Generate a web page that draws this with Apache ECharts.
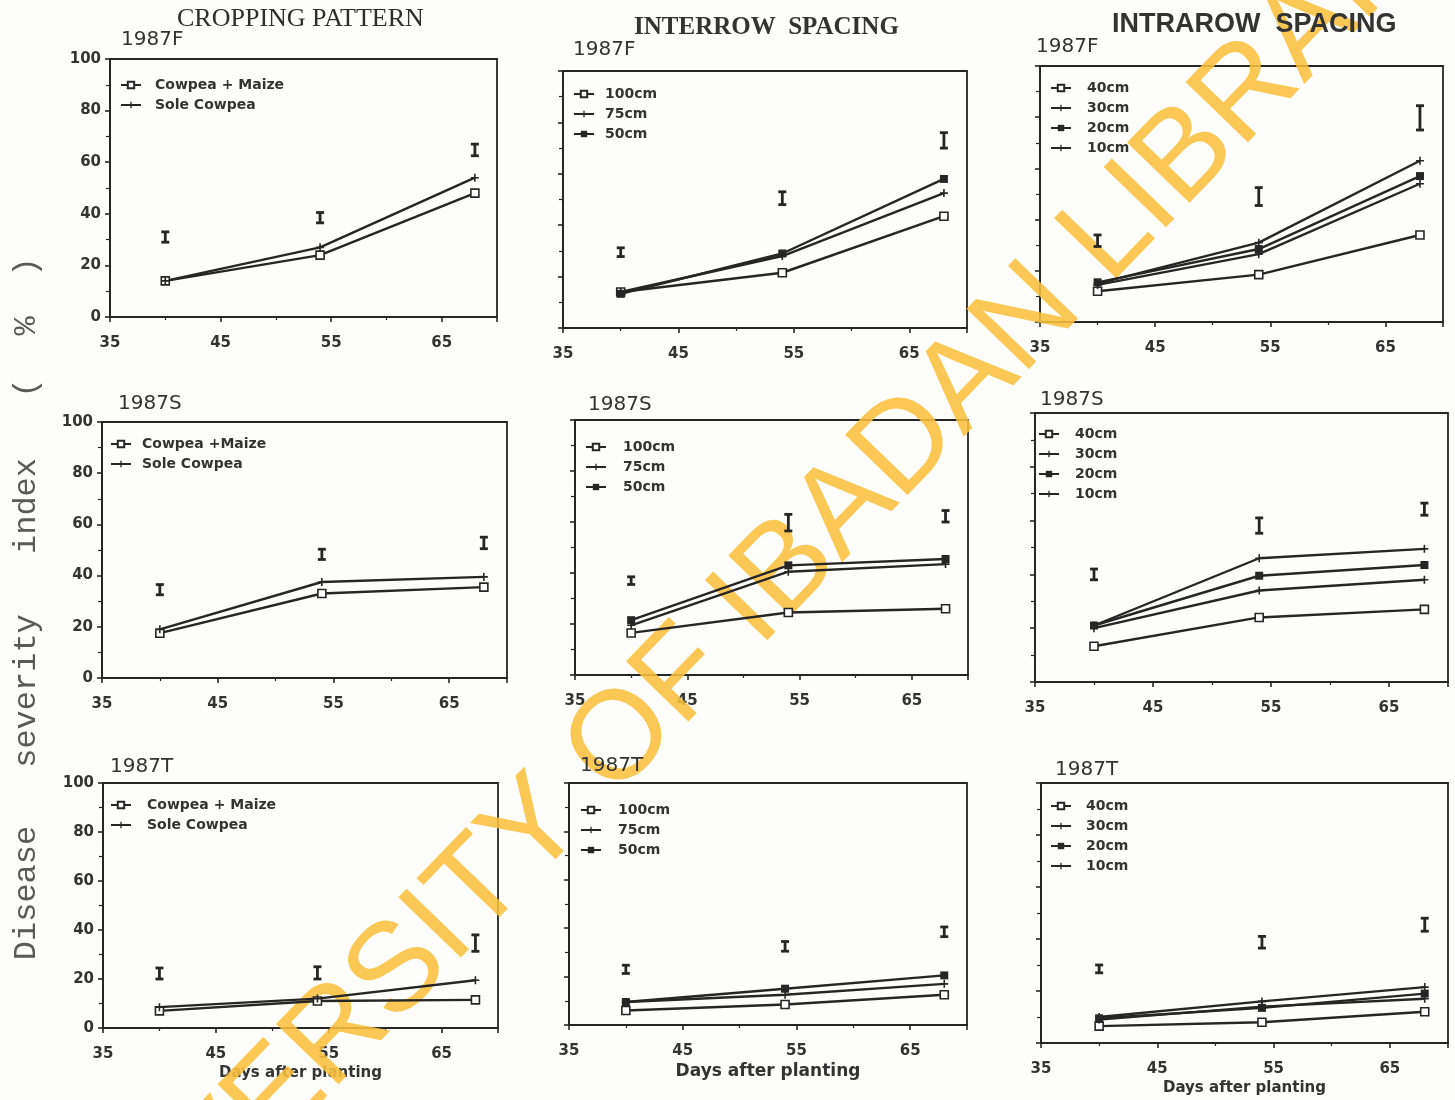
<!DOCTYPE html>
<html>
<head>
<meta charset="utf-8">
<title>Disease severity index</title>
<script src="https://cdn.jsdelivr.net/npm/echarts@6/dist/echarts.min.js"></script>
<style>
  html, body { margin: 0; padding: 0; background: #fdfdfb; }
  #chart { width: 1455px; height: 1100px; }
</style>
</head>
<body>
<div id="chart"></div>
<script>
// Sampling dates (days after planting)
const DAYS = [40, 54, 68];

// ---- 1987F ----
const cropF_mix  = [14, 24, 48];
const cropF_sole = [14, 27, 54];
const cropF_lsd  = [[29, 33], [36.5, 40.5], [62.5, 67]];
const interF_100 = [14, 21.5, 43.5];
const interF_75  = [14, 28, 52.5];
const interF_50  = [13.3, 29, 58];
const interF_lsd = [[27.8, 31.2], [48, 53], [70, 76]];
const intraF_40  = [12, 18.5, 34];
const intraF_30  = [15, 31, 63];
const intraF_20  = [15.5, 28.5, 57];
const intraF_10  = [14.5, 26.5, 54];
const intraF_lsd = [[29.5, 34], [45.5, 52.5], [75, 84.5]];

// ---- 1987S ----
const cropS_mix  = [17.5, 33, 35.5];
const cropS_sole = [19, 37.5, 39.5];
const cropS_lsd  = [[32.5, 36.5], [46.3, 50.3], [50.5, 55]];
const interS_100 = [16.5, 24.5, 26];
const interS_75  = [19.5, 40.5, 43.5];
const interS_50  = [21.5, 43, 45.5];
const interS_lsd = [[35.5, 38.5], [56.5, 63], [60, 64.5]];
const intraS_40  = [13.3, 24, 27];
const intraS_30  = [21, 46, 49.5];
const intraS_20  = [21, 39.5, 43.5];
const intraS_10  = [20, 34, 38];
const intraS_lsd = [[38, 42], [55.3, 61], [62, 66.5]];

// ---- 1987T ----
const cropT_mix  = [7, 11, 11.5];
const cropT_sole = [8.5, 12, 19.5];
const cropT_lsd  = [[20, 24.5], [20, 25], [31.3, 38]];
const interT_100 = [6, 8.5, 12.5];
const interT_75  = [9.5, 12.5, 17];
const interT_50  = [9.5, 15, 20.5];
const interT_lsd = [[21.3, 24.7], [30.5, 34.5], [36.5, 40.5]];
const intraT_40  = [6.5, 8, 12];
const intraT_30  = [10, 16, 21.5];
const intraT_20  = [9.5, 13.5, 19];
const intraT_10  = [9, 14, 17];
const intraT_lsd = [[27, 30], [36.5, 41], [43, 48]];

// Legend names
const cropNames   = ['Cowpea + Maize', 'Sole Cowpea'];
const cropNamesS  = ['Cowpea +Maize', 'Sole Cowpea'];
const interNames  = ['100cm', '75cm', '50cm'];
const intraNames  = ['40cm', '30cm', '20cm', '10cm'];

// Axis ranges and tick labels
const X_MIN = 35, X_MAX = 70, X_STEP = 10;
const Y_MIN = 0, Y_MAX = 100, Y_STEP = 20;

// Titles and panel labels
const columnTitles = ['CROPPING PATTERN', 'INTERROW  SPACING', 'INTRAROW  SPACING'];
const seasonLabels = ['1987F', '1987S', '1987T'];
const xTitle = 'Days after planting';
const yTitleWords = ['Disease', 'severity', 'index', '(', '%', ')'];
const stampText = 'UNIVERSITY OF IBADAN LIBRARY';

// ---------------------------------------------------------------
const INK = '#262626';
const SANS = '"DejaVu Sans", sans-serif';
const PLUS = 'path://M4,0H6V4H10V6H6V10H4V6H0V4H4Z';

const markers = {
  open:  { symbol: 'rect', symbolSize: 8, itemStyle: { color: '#ffffff', borderColor: INK, borderWidth: 1.6 } },
  plus:  { symbol: PLUS, symbolSize: 8, itemStyle: { color: INK, borderWidth: 0 } },
  fill:  { symbol: 'rect', symbolSize: 8, itemStyle: { color: INK, borderWidth: 0 } }
};

// panel grids: [left, top, width, height]
const grids = [
  [110, 59, 387, 258], [563, 71, 404, 257], [1040, 66, 403, 256],
  [102, 422, 405, 256], [575, 420, 393, 255], [1035, 413, 413, 269],
  [103, 783, 395, 245], [569, 783, 398, 242], [1041, 783, 407, 260]
];

// panel contents
const panels = [
  { names: cropNames,  data: [cropF_mix, cropF_sole], marks: ['open', 'plus'], lsd: cropF_lsd },
  { names: interNames, data: [interF_100, interF_75, interF_50], marks: ['open', 'plus', 'fill'], lsd: interF_lsd },
  { names: intraNames, data: [intraF_40, intraF_30, intraF_20, intraF_10], marks: ['open', 'plus', 'fill', 'plus'], lsd: intraF_lsd },
  { names: cropNamesS, data: [cropS_mix, cropS_sole], marks: ['open', 'plus'], lsd: cropS_lsd },
  { names: interNames, data: [interS_100, interS_75, interS_50], marks: ['open', 'plus', 'fill'], lsd: interS_lsd },
  { names: intraNames, data: [intraS_40, intraS_30, intraS_20, intraS_10], marks: ['open', 'plus', 'fill', 'plus'], lsd: intraS_lsd },
  { names: cropNames,  data: [cropT_mix, cropT_sole], marks: ['open', 'plus'], lsd: cropT_lsd },
  { names: interNames, data: [interT_100, interT_75, interT_50], marks: ['open', 'plus', 'fill'], lsd: interT_lsd },
  { names: intraNames, data: [intraT_40, intraT_30, intraT_20, intraT_10], marks: ['open', 'plus', 'fill', 'plus'], lsd: intraT_lsd }
];

// legend placement: [symbol centre x, first row centre y, text offset]
const legendPos = [
  [130, 85, 9], [583, 94, 6], [1060, 88, 11],
  [120, 444, 6], [595, 447, 12], [1048, 434, 11],
  [120, 805, 11], [590, 810, 12], [1060, 806, 10]
];

const series = [];
panels.forEach((p, i) => {
  p.data.forEach((vals, k) => {
    const m = markers[p.marks[k]];
    series.push({
      type: 'line',
      name: p.names[k],
      xAxisIndex: i, yAxisIndex: i,
      data: DAYS.map((d, j) => [d, vals[j]]),
      symbol: m.symbol, symbolSize: m.symbolSize,
      showAllSymbol: true,
      itemStyle: m.itemStyle,
      lineStyle: { color: INK, width: 2.4 },
      emphasis: { disabled: true },
      z: 3
    });
  });
  // LSD bars
  series.push({
    type: 'custom',
    name: 'lsd' + i,
    xAxisIndex: i, yAxisIndex: i,
    data: DAYS.map((d, j) => [d, p.lsd[j][0], p.lsd[j][1]]),
    encode: { x: 0, y: [1, 2] },
    z: 4,
    renderItem: function (params, api) {
      const lo = api.coord([api.value(0), api.value(1)]);
      const hi = api.coord([api.value(0), api.value(2)]);
      const w = 4;
      const st = { stroke: INK, lineWidth: 2.8 };
      return {
        type: 'group',
        children: [
          { type: 'line', shape: { x1: lo[0], y1: lo[1], x2: hi[0], y2: hi[1] }, style: st },
          { type: 'line', shape: { x1: lo[0] - w, y1: lo[1], x2: lo[0] + w, y2: lo[1] }, style: st },
          { type: 'line', shape: { x1: hi[0] - w, y1: hi[1], x2: hi[0] + w, y2: hi[1] }, style: st }
        ]
      };
    }
  });
});

const axisLabelStyle = { fontFamily: SANS, fontWeight: 'bold', fontSize: 15, color: '#333' };

const option = {
  backgroundColor: '#fdfdfb',
  animation: false,
  grid: grids.map(g => ({
    left: g[0], top: g[1], width: g[2], height: g[3],
    show: true, borderColor: INK, borderWidth: 1.8, backgroundColor: 'transparent',
    containLabel: false
  })),
  xAxis: grids.map((g, i) => ({
    type: 'value', gridIndex: i,
    min: X_MIN, max: X_MAX, interval: X_STEP,
    axisLine: { onZero: false, lineStyle: { color: INK, width: 2 } },
    axisTick: { length: 5, lineStyle: { color: INK, width: 1.6 } },
    minorTick: { show: true, splitNumber: 2, length: 3, lineStyle: { color: INK, width: 1.2 } },
    splitLine: { show: false },
    axisLabel: Object.assign({ showMaxLabel: false, margin: 19 }, axisLabelStyle),
    name: i >= 6 ? xTitle : '',
    nameLocation: 'middle',
    nameGap: 38,
    nameTextStyle: { fontFamily: SANS, fontWeight: 'bold', fontSize: i === 7 ? 17 : 15, color: '#333' }
  })),
  yAxis: grids.map((g, i) => ({
    type: 'value', gridIndex: i,
    min: Y_MIN, max: Y_MAX, interval: Y_STEP,
    axisLine: { onZero: false, lineStyle: { color: INK, width: 2 } },
    axisTick: { length: 5, lineStyle: { color: INK, width: 1.6 } },
    minorTick: { show: true, splitNumber: 2, length: 4, lineStyle: { color: INK, width: 1.2 } },
    splitLine: { show: false },
    axisLabel: Object.assign({ show: i % 3 === 0, margin: 9 }, axisLabelStyle)
  })),
  legend: panels.map((p, i) => {
    const L = legendPos[i];
    return {
      orient: 'vertical',
      left: L[0] - 10, top: L[1] - 8,
      padding: 0,
      itemGap: 4,
      itemWidth: 20, itemHeight: 8,
      selectedMode: false,
      data: p.names,
      textStyle: {
        fontFamily: SANS, fontWeight: 'bold', fontSize: 14, color: '#333',
        lineHeight: 16, padding: [0, 0, 0, L[2]]
      }
    };
  }),
  graphic: [
    // library stamp across the sheet
    {
      type: 'text', x: 748, y: 610, rotation: 46 * Math.PI / 180, z: 1, silent: true,
      style: {
        text: stampText, textAlign: 'center', textVerticalAlign: 'middle',
        font: '126px "Liberation Sans", sans-serif', fill: 'rgba(250,192,62,0.88)'
      }
    },
    // column titles
    { type: 'text', left: 177, top: 6, z: 5,
      style: { text: columnTitles[0], font: '26px "Liberation Serif", serif', fill: '#2e2e2e' } },
    { type: 'text', left: 634, top: 15, z: 5,
      style: { text: columnTitles[1], font: 'bold 25px "Liberation Serif", serif', fill: '#333' } },
    { type: 'text', left: 1112, top: 11, z: 5,
      style: { text: columnTitles[2], font: 'bold 27px "Liberation Sans", sans-serif', fill: '#333' } },
    // season labels
    ...[[0, 121, 30], [0, 573, 40], [0, 1036, 37],
        [1, 118, 394], [1, 588, 395], [1, 1040, 390],
        [2, 110, 757], [2, 580, 756], [2, 1055, 760]].map(s => ({
      type: 'text', left: s[1], top: s[2], z: 5,
      style: { text: seasonLabels[s[0]], font: '20px ' + SANS, fill: '#333' }
    })),
    // shared y-axis title, one word at a time
    ...[[0, 893], [1, 691], [2, 506], [3, 388], [4, 326], [5, 267]].map(w => ({
      type: 'text', x: 27, y: w[1], rotation: Math.PI / 2, z: 5,
      style: {
        text: yTitleWords[w[0]], textAlign: 'center', textVerticalAlign: 'middle',
        font: '32px "Liberation Mono", monospace', fill: '#5a5a5a'
      }
    }))
  ],
  series: series
};

const chart = echarts.init(document.getElementById('chart'), null, { renderer: 'canvas' });
chart.setOption(option);
</script>
</body>
</html>
